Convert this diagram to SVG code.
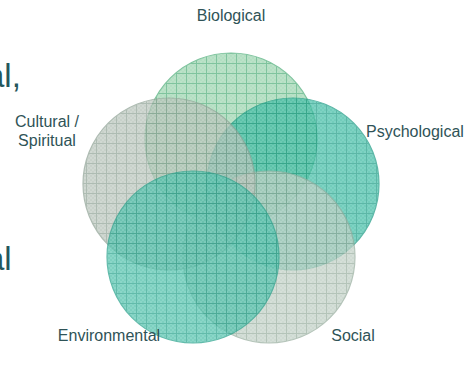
<svg xmlns="http://www.w3.org/2000/svg" width="464" height="372" viewBox="0 0 464 372">
  <style>
    .label { font-family: "Liberation Sans", Arial, sans-serif; font-size: 16px; fill: #2f5357; }
    .big { font-family: "Liberation Sans", Arial, sans-serif; font-size: 33px; fill: #24575c; }
    .petal { stroke-width: 1.2; opacity: 0.72; }
  </style>
  <defs>
    <!-- fine dither + 10px grid, one per colour -->
    <pattern id="gBio" patternUnits="userSpaceOnUse" x="6" y="3" width="10" height="10">
      <rect width="10" height="10" fill="#96d2ab"/>
      <path d="M0 0h2v2H0zM4 0h2v2H4zM8 0h2v2H8zM2 2h2v2H2zM6 2h2v2H6zM0 4h2v2H0zM4 4h2v2H4zM8 4h2v2H8zM2 6h2v2H2zM6 6h2v2H6zM0 8h2v2H0zM4 8h2v2H4zM8 8h2v2H8z" fill="#a9dcbb" opacity="0.6"/>
      <path d="M0.5 0V10M0 0.5H10" stroke="#4fae7a" stroke-width="1"/>
    </pattern>
    <pattern id="gPsy" patternUnits="userSpaceOnUse" x="6" y="3" width="10" height="10">
      <rect width="10" height="10" fill="#3dbaa2"/>
      <path d="M0 0h2v2H0zM4 0h2v2H4zM8 0h2v2H8zM2 2h2v2H2zM6 2h2v2H6zM0 4h2v2H0zM4 4h2v2H4zM8 4h2v2H8zM2 6h2v2H2zM6 6h2v2H6zM0 8h2v2H0zM4 8h2v2H4zM8 8h2v2H8z" fill="#5cc8b3" opacity="0.6"/>
      <path d="M0.5 0V10M0 0.5H10" stroke="#1f9c86" stroke-width="1"/>
    </pattern>
    <pattern id="gSoc" patternUnits="userSpaceOnUse" x="6" y="3" width="10" height="10">
      <rect width="10" height="10" fill="#bccdc1"/>
      <path d="M0 0h2v2H0zM4 0h2v2H4zM8 0h2v2H8zM2 2h2v2H2zM6 2h2v2H6zM0 4h2v2H0zM4 4h2v2H4zM8 4h2v2H8zM2 6h2v2H2zM6 6h2v2H6zM0 8h2v2H0zM4 8h2v2H4zM8 8h2v2H8z" fill="#cdd9d0" opacity="0.6"/>
      <path d="M0.5 0V10M0 0.5H10" stroke="#98ae9f" stroke-width="1"/>
    </pattern>
    <pattern id="gEnv" patternUnits="userSpaceOnUse" x="6" y="3" width="10" height="10">
      <rect width="10" height="10" fill="#4cbfa9"/>
      <path d="M0 0h2v2H0zM4 0h2v2H4zM8 0h2v2H8zM2 2h2v2H2zM6 2h2v2H6zM0 4h2v2H0zM4 4h2v2H4zM8 4h2v2H8zM2 6h2v2H2zM6 6h2v2H6zM0 8h2v2H0zM4 8h2v2H4zM8 8h2v2H8z" fill="#6ccdbb" opacity="0.6"/>
      <path d="M0.5 0V10M0 0.5H10" stroke="#28a28c" stroke-width="1"/>
    </pattern>
    <pattern id="gCul" patternUnits="userSpaceOnUse" x="6" y="3" width="10" height="10">
      <rect width="10" height="10" fill="#b3c0b6"/>
      <path d="M0 0h2v2H0zM4 0h2v2H4zM8 0h2v2H8zM2 2h2v2H2zM6 2h2v2H6zM0 4h2v2H0zM4 4h2v2H4zM8 4h2v2H8zM2 6h2v2H2zM6 6h2v2H6zM0 8h2v2H0zM4 8h2v2H4zM8 8h2v2H8z" fill="#c6d0c8" opacity="0.6"/>
      <path d="M0.5 0V10M0 0.5H10" stroke="#90a396" stroke-width="1"/>
    </pattern>
  </defs>

  <rect width="464" height="372" fill="#ffffff"/>

  <!-- slide text running in from the left edge -->
  <text class="big" x="-14" y="87">al,</text>
  <text class="big" x="-14" y="270">al</text>

  <g id="biological">
    <circle class="petal" cx="231" cy="139" r="86" fill="url(#gBio)" stroke="#4fae7a"/>
  </g>
  <g id="psychological">
    <circle class="petal" cx="293" cy="184" r="86" fill="url(#gPsy)" stroke="#1f9c86"/>
  </g>
  <g id="social">
    <circle class="petal" cx="269" cy="257" r="86" fill="url(#gSoc)" stroke="#98ae9f"/>
  </g>
  <g id="cultural">
    <circle class="petal" cx="169" cy="184" r="86" fill="url(#gCul)" stroke="#90a396"/>
  </g>
  <g id="environmental">
    <circle class="petal" cx="193" cy="257" r="86" fill="url(#gEnv)" stroke="#28a28c"/>
  </g>

  <g id="labels">
    <text class="label" x="231" y="21" text-anchor="middle">Biological</text>
    <text class="label" x="366" y="137">Psychological</text>
    <text class="label" x="47" y="127" text-anchor="middle">Cultural /</text>
    <text class="label" x="47" y="146" text-anchor="middle">Spiritual</text>
    <text class="label" x="109" y="341" text-anchor="middle">Environmental</text>
    <text class="label" x="353" y="341" text-anchor="middle">Social</text>
  </g>
  <g id="connectors"/>
</svg>
